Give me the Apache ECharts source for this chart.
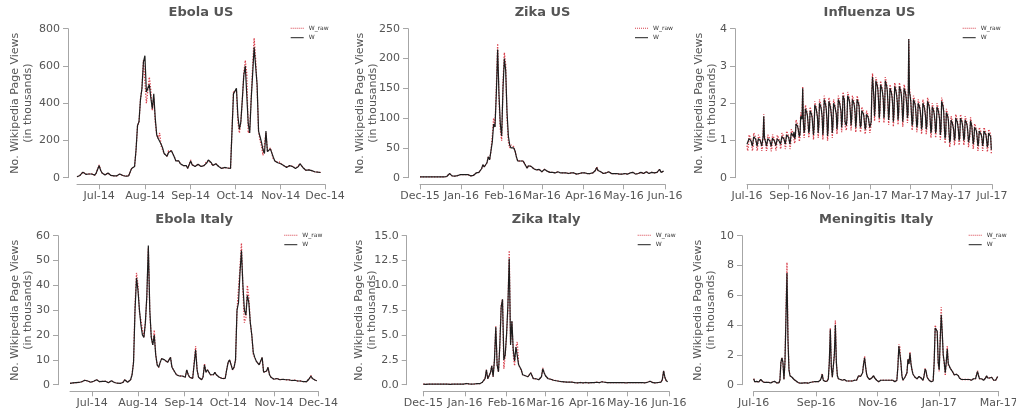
<!DOCTYPE html>
<html>
<head>
<meta charset="utf-8">
<script src="https://cdn.jsdelivr.net/npm/echarts@6/dist/echarts.min.js"></script>
<style>
  html, body { margin: 0; padding: 0; background: #ffffff; }
  #chart { width: 1016px; height: 414px; }
</style>
</head>
<body>
<div id="chart"></div>
<script>
// Daily Wikipedia page views (thousands). W = adjusted series, W_raw = raw counts.

// ---- Ebola, US (from 2014-06-16) ----
const ebolaUsStart = '2014-06-16';
const ebolaUsW = [
  5,8,12,22,30,20,18,25,20,15,
  20,18,14,25,30,65,40,25,18,15,
  22,25,18,12,10,10,12,10,15,20,
  15,12,10,8,8,10,30,50,45,60,
  150,280,300,420,480,620,655,460,480,500,
  430,370,450,320,230,210,220,180,160,130,
  120,115,135,140,145,145,110,90,85,90,
  75,70,65,60,65,50,45,90,70,65,
  60,70,72,68,60,55,65,70,80,95,
  85,80,65,60,75,70,60,55,50,55,
  55,50,52,55,50,55,450,455,480,330,
  260,300,420,550,600,590,290,240,420,560,
  700,600,500,250,220,190,150,130,250,140,
  130,155,150,110,90,85,80,85,75,70,
  65,60,55,60,65,65,60,55,50,55,
  60,75,65,55,45,40,45,42,40,38,
  35,32,30,30,28,28
];
const ebolaUsRaw = [
  5,8,12,22,30,20,18,25,20,15,
  20,18,14,25,30,68,40,25,18,15,
  22,25,18,12,10,10,12,10,15,20,
  15,12,10,8,8,10,30,50,45,60,
  150,280,300,420,480,630,640,400,470,540,
  470,360,430,300,230,210,240,170,160,130,
  120,115,145,140,145,150,110,90,85,90,
  75,70,65,60,65,50,45,95,70,65,
  60,70,72,68,60,55,65,70,90,95,
  85,80,65,60,75,70,60,55,50,55,
  55,50,52,55,50,55,460,450,470,300,
  240,300,420,560,630,560,240,260,430,600,
  750,640,480,250,200,170,120,130,240,140,
  130,160,150,100,90,85,80,85,75,70,
  65,60,55,60,65,65,60,55,50,55,
  60,75,65,55,45,40,45,42,40,38,
  35,32,30,30,28,28
];

// ---- Zika, US (from 2015-12-01) ----
const zikaUsStart = '2015-12-01';
const zikaUsW = [
  1.5,1.4,1.5,1.6,1.5,1.4,1.3,1.5,1.6,1.5,
  1.4,1.5,1.6,1.5,1.4,1.5,1.6,1.7,1.5,1.4,
  2,4,7,5,3,2.5,2.5,3,3.5,4,
  5,7,5,4,5,6,5,4,3,3,
  4,5,8,9,9,12,15,22,18,17,
  25,35,30,45,60,90,85,140,215,140,
  90,70,150,200,180,110,70,55,50,52,
  50,45,35,28,25,28,30,28,25,20,
  16,20,22,19,16,15,14,13,15,14,
  13,10,12,14,13,11,9,9,10,9,
  8,8,9,10,9,8,7,8,9,8,
  7,7,8,8,9,8,7,6,7,7,
  8,8,9,8,7,7,8,7,9,8,
  8,12,17,12,14,10,8,7,6,8,
  9,10,8,7,6,7,8,7,6,6,
  7,6,6,7,6,6,7,8,10,9,
  7,6,6,7,8,9,8,7,9,10,
  8,7,8,9,7,8,8,9,10,14,
  9,10,11
];
const zikaUsRaw = [
  1.5,1.4,1.5,1.6,1.5,1.4,1.3,1.5,1.6,1.5,
  1.4,1.5,1.6,1.5,1.4,1.5,1.6,1.7,1.5,1.4,
  2,4,7,5,3,2.5,2.5,3,3.5,4,
  5,7,5,4,5,6,5,4,3,3,
  4,5,8,9,9,12,15,22,18,17,
  25,35,30,45,70,100,85,150,225,130,
  80,62,160,210,190,100,60,50,55,55,
  52,45,35,28,25,28,30,28,25,20,
  16,20,22,19,16,15,14,13,15,14,
  13,10,12,14,13,11,9,9,10,9,
  8,8,9,10,9,8,7,8,9,8,
  7,7,8,8,9,8,7,6,7,7,
  8,8,9,8,7,7,8,7,9,8,
  8,12,18,12,14,10,8,7,6,8,
  9,10,8,7,6,7,8,7,6,6,
  7,6,6,7,6,6,7,8,10,9,
  7,6,6,7,8,9,8,7,9,10,
  8,7,8,9,7,8,8,9,10,14,
  9,10,11
];

// ---- Influenza, US (from 2016-07-01, one row per week Fri..Thu) ----
const fluUsStart = '2016-07-01';
const fluUsW = [
  0.9,0.85,0.88,1.05,1.04,1.02,0.99,
  0.96,0.85,0.89,1.1,1.09,1.06,1.03,
  0.94,0.85,0.88,1.05,1.04,1.02,0.99,
  0.96,0.85,0.89,1.1,1.65,1.06,1.03,
  0.94,0.85,0.88,1.05,1.04,1.02,0.99,
  0.93,0.84,0.87,1.06,1.05,1.01,0.98,
  0.95,0.86,0.89,1.04,1.03,1.01,0.98,
  0.99,0.9,0.93,1.1,1.09,1.07,1.04,
  1.01,0.9,0.94,1.15,1.14,1.11,1.08,
  1.04,0.9,0.95,1.2,1.19,1.16,1.11,
  1.23,1.05,1.11,1.45,1.44,1.39,1.33,
  1.35,1.1,1.18,1.65,1.63,1.57,2.4,
  1.49,1.2,1.3,1.85,1.83,1.75,1.66,
  1.47,1.2,1.29,1.8,1.78,1.71,1.62,
  1.57,1.15,1.36,1.95,1.93,1.85,1.74,
  1.62,1.2,1.41,2.0,1.98,1.9,1.79,
  1.63,1.15,1.38,2.1,2.07,1.97,1.85,
  1.58,1.12,1.33,2.05,2.02,1.92,1.8,
  1.62,1.2,1.41,2.0,1.98,1.9,1.79,
  1.72,1.3,1.51,2.1,2.08,2.0,1.89,
  1.79,1.35,1.56,2.2,2.18,2.09,1.5,
  1.55,1.4,1.6,2.2,2.18,2.1,2.0,
  1.77,1.4,1.59,2.1,2.08,2.01,1.92,
  1.74,1.35,1.55,2.1,2.08,2.0,1.91,
  1.55,1.35,1.42,1.8,1.79,1.73,1.67,
  1.48,1.3,1.36,1.7,1.69,1.64,1.58,
  1.45,1.35,1.4,1.5,2.3,2.7,2.45,
  2.16,1.65,1.92,2.6,2.58,2.48,2.36,
  2.06,1.6,1.82,2.5,2.48,2.38,2.26,
  2.11,1.6,1.84,2.6,2.57,2.47,2.33,
  1.99,1.55,1.76,2.4,2.38,2.29,2.18,
  1.98,1.5,1.73,2.45,2.42,2.32,2.2,
  2.01,1.55,1.77,2.45,2.43,2.33,2.21,
  1.96,1.5,1.72,2.4,2.38,2.28,2.16,
  1.95,1.6,1.75,3.72,2.3,2.2,2.05,
  1.72,1.4,1.51,2.1,2.08,2.0,1.89,
  1.64,1.35,1.45,2.0,1.98,1.9,1.81,
  1.62,1.3,1.41,2.0,1.98,1.9,1.79,
  1.64,1.3,1.41,2.05,2.03,1.94,1.83,
  1.52,1.2,1.31,1.9,1.88,1.8,1.69,
  1.52,1.2,1.31,1.9,1.88,1.8,1.69,
  1.56,1.15,1.29,2.05,2.02,1.92,1.78,
  1.37,1.05,1.16,1.75,1.73,1.65,1.54,
  1.22,0.95,1.04,1.55,1.53,1.46,1.37,
  1.27,1.0,1.09,1.6,1.58,1.51,1.42,
  1.27,1.0,1.09,1.6,1.58,1.51,1.42,
  1.25,1.0,1.08,1.55,1.53,1.47,1.39,
  1.22,0.95,1.04,1.2,1.53,1.46,1.37,
  1.13,0.9,1.01,1.35,1.34,1.29,1.23,
  1.06,0.85,0.95,1.25,1.24,1.2,1.15,
  1.06,0.85,0.95,1.25,1.24,1.2,1.15,
  1.01,0.82,0.9,1.2,1.19,1.15,1.1,
  0.75
];
const fluUsRaw = [
  0.86,0.72,0.8,1.15,1.13,1.08,1.02,
  0.92,0.72,0.81,1.2,1.18,1.12,1.06,
  0.9,0.72,0.8,1.15,1.13,1.08,1.02,
  0.92,0.72,0.81,1.2,1.7,1.12,1.06,
  0.9,0.72,0.8,1.15,1.13,1.08,1.02,
  0.89,0.71,0.79,1.16,1.14,1.07,1.01,
  0.91,0.73,0.81,1.14,1.12,1.07,1.01,
  0.95,0.77,0.85,1.2,1.18,1.13,1.07,
  0.97,0.77,0.86,1.25,1.23,1.17,1.11,
  1.0,0.77,0.87,1.3,1.28,1.22,1.14,
  1.19,0.92,1.03,1.55,1.53,1.45,1.36,
  1.31,0.97,1.1,1.75,1.72,1.63,2.45,
  1.45,1.07,1.22,1.95,1.92,1.81,1.69,
  1.43,1.07,1.21,1.9,1.87,1.77,1.65,
  1.53,1.02,1.28,2.05,2.02,1.91,1.77,
  1.58,1.07,1.33,2.1,2.07,1.96,1.82,
  1.59,1.02,1.3,2.2,2.16,2.03,1.88,
  1.54,0.99,1.25,2.15,2.11,1.98,1.83,
  1.58,1.07,1.33,2.1,2.07,1.96,1.82,
  1.68,1.17,1.43,2.2,2.17,2.06,1.92,
  1.75,1.22,1.48,2.3,2.27,2.15,1.4,
  1.45,1.27,1.52,2.3,2.27,2.16,2.03,
  1.73,1.27,1.51,2.2,2.17,2.07,1.95,
  1.7,1.22,1.47,2.2,2.17,2.06,1.94,
  1.51,1.22,1.34,1.9,1.88,1.79,1.7,
  1.44,1.17,1.28,1.8,1.78,1.7,1.61,
  1.4,1.2,1.3,1.45,2.4,2.8,2.52,
  2.12,1.52,1.84,2.7,2.67,2.54,2.39,
  2.02,1.47,1.74,2.6,2.57,2.44,2.29,
  2.07,1.47,1.76,2.7,2.66,2.53,2.36,
  1.95,1.42,1.68,2.5,2.47,2.35,2.21,
  1.94,1.37,1.65,2.55,2.51,2.38,2.23,
  1.97,1.42,1.69,2.55,2.52,2.39,2.24,
  1.92,1.37,1.64,2.5,2.47,2.34,2.19,
  1.91,1.47,1.67,3.72,2.39,2.26,2.08,
  1.68,1.27,1.43,2.2,2.17,2.06,1.92,
  1.6,1.22,1.37,2.1,2.07,1.96,1.84,
  1.58,1.17,1.33,2.1,2.07,1.96,1.82,
  1.6,1.17,1.33,2.15,2.12,2.0,1.86,
  1.48,1.07,1.23,2.0,1.97,1.86,1.72,
  1.48,1.07,1.23,2.0,1.97,1.86,1.72,
  1.52,1.02,1.21,2.15,2.11,1.98,1.81,
  1.33,0.92,1.08,1.85,1.82,1.71,1.57,
  1.18,0.82,0.96,1.65,1.62,1.52,1.4,
  1.23,0.87,1.01,1.7,1.67,1.57,1.45,
  1.23,0.87,1.01,1.7,1.67,1.57,1.45,
  1.21,0.87,1.0,1.65,1.62,1.53,1.42,
  1.18,0.82,0.96,1.12,1.62,1.52,1.4,
  1.09,0.77,0.93,1.45,1.43,1.35,1.26,
  1.02,0.72,0.87,1.35,1.33,1.26,1.18,
  1.02,0.72,0.87,1.35,1.33,1.26,1.18,
  0.97,0.69,0.82,1.3,1.28,1.21,1.13,
  0.65
];

// ---- Ebola, Italy (from 2014-06-16) ----
const ebolaItStart = '2014-06-16';
const ebolaItW = [
  0.5,0.6,0.7,0.6,0.8,0.7,0.9,1.0,1.2,1.5,
  1.8,2.0,1.5,1.2,1.0,1.2,1.4,1.8,2.0,1.6,
  1.2,1.0,1.3,1.6,1.4,1.0,0.8,1.2,1.6,1.2,
  0.9,0.7,0.6,0.5,0.5,0.6,1.0,2.0,1.5,1.0,
  1.2,2.0,4.0,9.0,30,43,38,30,24,20,
  19,25,36,56,30,19,16,20,12,8,
  7,9,10.5,10.8,10,9.5,9,9.5,11,7,
  6,5,4,4.5,3.5,3,3.5,4,3,6,
  4,3,2.5,2.5,3,14,6,3,2.5,2,
  3,8,5,6,5,4,3.5,4,5,4,
  3.5,3,2.5,2.5,2,2.5,6,9,10,10,
  6,7,10,30,33,45,54,40,30,28,
  36,33,25,20,13,11,9.5,9,8,8.5,
  11,5,4.5,5.5,7,4,3,2.5,2.2,2.2,
  2.5,2.3,2.0,2.5,2.2,2.4,2.0,1.8,2.0,1.8,
  1.7,1.6,1.8,1.6,1.5,1.4,1.5,1.3,1.2,1.0,
  1.2,1.5,2.5,3.5,2.5,2.0,1.8,1.6
];
const ebolaItRaw = [
  0.5,0.6,0.7,0.6,0.8,0.7,0.9,1.0,1.2,1.5,
  1.8,2.0,1.5,1.2,1.0,1.2,1.4,1.8,2.0,1.6,
  1.2,1.0,1.3,1.6,1.4,1.0,0.8,1.2,1.6,1.2,
  0.9,0.7,0.6,0.5,0.5,0.6,1.0,2.0,1.5,1.0,
  1.2,2.0,4.0,9.5,32,45,40,29,26,22,
  19,25,35,55,29,19,16,22,12,8,
  7,9,10.5,10.8,10,9.5,9,9.5,11,7,
  6,5,4,4.5,3.5,3,3.5,4,3,6,
  4,3,2.5,2.5,3,15.5,6,3,2.5,2,
  3,8.5,5,6,5,4,3.5,4,5,4,
  3.5,3,2.5,2.5,2,2.5,6,9,10,10,
  6,7,10,30,30,47,57,38,25,27,
  40,35,25,20,12,11,9.5,9,8,8.5,
  11,5,4.5,5.5,7,4,3,2.5,2.2,2.2,
  2.5,2.3,2.0,2.5,2.2,2.4,2.0,1.8,2.0,1.8,
  1.7,1.6,1.8,1.6,1.5,1.4,1.5,1.3,1.2,1.0,
  1.2,1.5,2.5,3.7,2.5,2.0,1.8,1.6
];

// ---- Zika, Italy (from 2015-12-01) ----
const zikaItStart = '2015-12-01';
const zikaItW = [
  0.05,0.05,0.04,0.05,0.06,0.05,0.05,0.04,0.05,0.05,
  0.06,0.05,0.05,0.04,0.05,0.05,0.05,0.06,0.05,0.05,
  0.04,0.04,0.05,0.05,0.05,0.04,0.05,0.05,0.06,0.05,
  0.05,0.08,0.12,0.1,0.08,0.07,0.06,0.06,0.07,0.08,
  0.1,0.12,0.1,0.15,0.25,0.3,0.6,1.5,0.6,0.8,
  1.2,1.9,0.8,2.5,5.8,2.0,1.3,4.0,7.8,8.6,
  2.5,3.0,5.0,8.0,12.7,4.0,6.4,3.5,2.4,3.8,
  4.0,2.0,1.8,1.5,1.0,1.1,0.9,1.0,0.8,1.0,
  1.2,1.4,0.6,0.7,0.6,0.7,0.5,0.6,0.8,1.6,
  1.2,0.9,0.7,0.6,0.5,0.55,0.5,0.45,0.4,0.4,
  0.35,0.35,0.3,0.3,0.3,0.28,0.25,0.25,0.22,0.25,
  0.28,0.25,0.22,0.2,0.2,0.18,0.2,0.22,0.2,0.18,
  0.2,0.22,0.2,0.18,0.2,0.2,0.18,0.2,0.22,0.25,
  0.2,0.2,0.22,0.3,0.35,0.25,0.2,0.2,0.18,0.2,
  0.22,0.2,0.18,0.2,0.22,0.2,0.18,0.2,0.2,0.22,
  0.2,0.18,0.2,0.22,0.2,0.2,0.18,0.2,0.22,0.2,
  0.18,0.2,0.2,0.22,0.2,0.18,0.2,0.25,0.3,0.35,
  0.25,0.2,0.2,0.18,0.2,0.22,0.2,0.25,0.5,1.4,
  0.7,0.4,0.3
];
const zikaItRaw = [
  0.05,0.05,0.04,0.05,0.06,0.05,0.05,0.04,0.05,0.05,
  0.06,0.05,0.05,0.04,0.05,0.05,0.05,0.06,0.05,0.05,
  0.04,0.04,0.05,0.05,0.05,0.04,0.05,0.05,0.06,0.05,
  0.05,0.08,0.12,0.1,0.08,0.07,0.06,0.06,0.07,0.08,
  0.1,0.12,0.1,0.15,0.25,0.3,0.6,1.5,0.6,0.8,
  1.2,1.9,0.8,2.5,5.9,1.9,1.3,4.0,8.0,8.6,
  1.6,3.0,5.0,7.5,13.5,4.2,6.3,3.0,1.9,3.8,
  4.3,2.0,1.8,1.4,1.0,1.1,0.9,1.0,0.8,1.0,
  1.2,1.4,0.6,0.7,0.6,0.7,0.5,0.6,0.8,1.7,
  1.2,0.9,0.7,0.6,0.5,0.55,0.5,0.45,0.4,0.4,
  0.35,0.35,0.3,0.3,0.3,0.28,0.25,0.25,0.22,0.25,
  0.28,0.25,0.22,0.2,0.2,0.18,0.2,0.22,0.2,0.18,
  0.2,0.22,0.2,0.18,0.2,0.2,0.18,0.2,0.22,0.25,
  0.2,0.2,0.22,0.3,0.35,0.25,0.2,0.2,0.18,0.2,
  0.22,0.2,0.18,0.2,0.22,0.2,0.18,0.2,0.2,0.22,
  0.2,0.18,0.2,0.22,0.2,0.2,0.18,0.2,0.22,0.2,
  0.18,0.2,0.2,0.22,0.2,0.18,0.2,0.25,0.3,0.35,
  0.25,0.2,0.2,0.18,0.2,0.22,0.2,0.25,0.5,1.4,
  0.7,0.4,0.3
];

// ---- Meningitis, Italy (from 2016-07-01) ----
const meningItStart = '2016-07-01';
const meningItW = [
  0.4,0.2,0.2,0.22,0.2,0.18,0.22,0.35,0.28,0.2,
  0.18,0.15,0.18,0.15,0.12,0.15,0.15,0.12,0.15,0.2,
  0.3,0.22,0.15,0.12,0.1,0.12,0.3,1.5,1.8,1.5,
  0.35,1.5,4.5,7.5,3.0,1.0,0.6,0.55,0.5,0.4,
  0.35,0.3,0.25,0.2,0.15,0.12,0.1,0.12,0.1,0.15,
  0.12,0.1,0.12,0.15,0.1,0.12,0.15,0.12,0.18,0.15,
  0.2,0.18,0.2,0.22,0.2,0.25,0.3,0.45,0.7,0.3,
  0.25,0.22,0.2,0.25,0.4,1.5,3.7,1.2,0.5,0.6,
  2.0,4.0,1.5,0.6,0.4,0.3,0.35,0.3,0.3,0.25,
  0.35,0.3,0.25,0.2,0.25,0.3,0.25,0.2,0.25,0.3,
  0.3,0.35,0.3,0.4,0.6,0.6,0.55,0.6,0.8,1.4,
  1.8,1.2,0.7,0.5,0.4,0.35,0.4,0.45,0.55,0.6,
  0.45,0.35,0.3,0.25,0.2,0.25,0.3,0.35,0.3,0.35,
  0.3,0.35,0.3,0.35,0.3,0.35,0.3,0.25,0.3,0.25,
  0.2,0.25,0.3,1.2,2.6,2.5,1.5,0.6,0.3,0.4,
  0.5,0.45,0.8,1.7,1.4,2.1,1.4,1.0,0.7,0.6,
  0.5,0.45,0.4,0.45,0.55,0.6,0.45,0.35,0.3,0.6,
  1.05,0.9,0.5,0.4,0.3,0.25,0.2,0.2,0.25,1.5,
  3.8,3.9,3.6,1.5,1.0,3.0,4.7,3.5,2.0,1.5,
  0.8,1.5,2.4,1.4,1.3,1.1,1.0,0.9,0.8,0.65,
  0.6,0.7,0.75,0.6,0.45,0.4,0.35,0.4,0.35,0.3,
  0.35,0.3,0.35,0.3,0.35,0.3,0.3,0.35,0.4,0.45,
  0.4,0.5,0.9,0.6,0.4,0.35,0.4,0.35,0.3,0.35,
  0.45,0.6,0.45,0.4,0.45,0.5,0.5,0.45,0.3,0.25,
  0.3,0.4,0.55
];
const meningItRaw = [
  0.4,0.2,0.2,0.22,0.2,0.18,0.22,0.35,0.28,0.2,
  0.18,0.15,0.18,0.15,0.12,0.15,0.15,0.12,0.15,0.2,
  0.3,0.22,0.15,0.12,0.1,0.12,0.3,1.5,1.8,1.5,
  0.35,1.5,4.8,8.2,3.2,1.0,0.6,0.55,0.5,0.4,
  0.35,0.3,0.25,0.2,0.15,0.12,0.1,0.12,0.1,0.15,
  0.12,0.1,0.12,0.15,0.1,0.12,0.15,0.12,0.18,0.15,
  0.2,0.18,0.2,0.22,0.2,0.25,0.3,0.45,0.75,0.3,
  0.25,0.22,0.2,0.25,0.4,1.5,3.8,1.1,0.5,0.6,
  2.1,4.3,1.4,0.6,0.4,0.3,0.35,0.3,0.3,0.25,
  0.35,0.3,0.25,0.2,0.25,0.3,0.25,0.2,0.25,0.3,
  0.3,0.35,0.3,0.4,0.6,0.6,0.55,0.6,0.8,1.4,
  1.9,1.2,0.7,0.5,0.4,0.35,0.4,0.45,0.55,0.6,
  0.45,0.35,0.3,0.25,0.2,0.25,0.3,0.35,0.3,0.35,
  0.3,0.35,0.3,0.35,0.3,0.35,0.3,0.25,0.3,0.25,
  0.2,0.25,0.3,1.2,2.7,2.5,1.4,0.6,0.3,0.4,
  0.5,0.45,0.8,1.7,1.4,2.2,1.4,1.0,0.7,0.6,
  0.5,0.45,0.4,0.45,0.55,0.6,0.45,0.35,0.3,0.6,
  1.1,0.9,0.5,0.4,0.3,0.25,0.2,0.2,0.25,1.5,
  4.0,3.9,3.5,1.4,0.9,3.2,5.2,3.4,1.9,1.4,
  0.6,1.6,2.6,1.3,1.3,1.1,1.0,0.9,0.8,0.65,
  0.6,0.7,0.75,0.6,0.45,0.4,0.35,0.4,0.35,0.3,
  0.35,0.3,0.35,0.3,0.35,0.3,0.3,0.35,0.4,0.45,
  0.4,0.5,0.95,0.6,0.4,0.35,0.4,0.35,0.3,0.35,
  0.45,0.6,0.45,0.4,0.45,0.5,0.5,0.45,0.3,0.25,
  0.3,0.4,0.55
];

// ---- Month ticks shown on each date axis ----
const ebolaTicks = ['2014-07-01','2014-08-01','2014-09-01','2014-10-01','2014-11-01','2014-12-01'];
const zikaTicks = ['2015-12-01','2016-01-01','2016-02-01','2016-03-01','2016-04-01','2016-05-01','2016-06-01'];
const fluTicks = ['2016-07-01','2016-09-01','2016-11-01','2017-01-01','2017-03-01','2017-05-01','2017-07-01'];
const meningTicks = ['2016-07-01','2016-09-01','2016-11-01','2017-01-01','2017-03-01'];
const MONTHS = ['Jan','Feb','Mar','Apr','May','Jun','Jul','Aug','Sep','Oct','Nov','Dec'];

// ---- helpers: dates are kept as millisecond timestamps on a numeric axis ----
function dayMs(s, add) {
  const p = s.split('-').map(Number);
  return new Date(p[0], p[1] - 1, p[2] + (add || 0)).getTime();
}
function daily(start, vals) {
  return vals.map((v, i) => [dayMs(start, i), v]);
}
function monthLabel(v) {
  const d = new Date(v);
  return MONTHS[d.getMonth()] + '-' + String(d.getFullYear()).slice(2);
}

const FONT = 'DejaVu Sans';
const TEXT = '#555555';
const SPINE = '#a6a6a6';
const RED = '#d8404c';
const BLACK = '#1e1e1e';
// legend swatches: a dotted stroke and a solid stroke, 13px wide
const ICON_DOTTED = 'path://M0 0h1v1H0zM2 0h1v1H2zM4 0h1v1H4zM6 0h1v1H6zM8 0h1v1H8zM10 0h1v1H10zM12 0h1v1H12z';
const ICON_SOLID = 'path://M0 0h13v1H0z';

// Panel layout (pixels)
const panels = [
  { title: 'Ebola US', start: ebolaUsStart, w: ebolaUsW, raw: ebolaUsRaw, ticks: ebolaTicks,
    xMin: '2014-06-16', xMax: '2014-12-01', yMax: 800, yStep: 200, dec: 0,
    left: 77, top: 28.7, width: 248, yOff: 9, nameGap: 33.5, legLeft: 290.7 },
  { title: 'Zika US', start: zikaUsStart, w: zikaUsW, raw: zikaUsRaw, ticks: zikaTicks,
    xMin: '2015-12-01', xMax: '2016-06-01', yMax: 250, yStep: 50, dec: 0,
    left: 420, top: 28.7, width: 245, yOff: 12, nameGap: 28.8, legLeft: 635 },
  { title: 'Influenza US', start: fluUsStart, w: fluUsW, raw: fluUsRaw, ticks: fluTicks,
    xMin: '2016-07-01', xMax: '2017-07-01', yMax: 4, yStep: 1, dec: 0,
    left: 747, top: 28.7, width: 245, yOff: 12, nameGap: 16.5, legLeft: 962.7 },
  { title: 'Ebola Italy', start: ebolaItStart, w: ebolaItW, raw: ebolaItRaw, ticks: ebolaTicks,
    xMin: '2014-06-16', xMax: '2014-12-01', yMax: 60, yStep: 10, dec: 0,
    left: 70, top: 235.7, width: 248.3, yOff: 12, nameGap: 23.2, legLeft: 284.3 },
  { title: 'Zika Italy', start: zikaItStart, w: zikaItW, raw: zikaItRaw, ticks: zikaTicks,
    xMin: '2015-12-01', xMax: '2016-06-01', yMax: 15, yStep: 2.5, dec: 1,
    left: 423.3, top: 235.7, width: 245.7, yOff: 16.6, nameGap: 28.5, legLeft: 637.7 },
  { title: 'Meningitis Italy', start: meningItStart, w: meningItW, raw: meningItRaw, ticks: meningTicks,
    xMin: '2016-07-01', xMax: '2017-03-01', yMax: 10, yStep: 2, dec: 0,
    left: 753.7, top: 235.7, width: 245, yOff: 11.7, nameGap: 24.5, legLeft: 968.7 }
];
const PLOT_H = 149;

const option = {
  animation: false,
  backgroundColor: '#ffffff',
  textStyle: { fontFamily: FONT },
  title: [], grid: [], xAxis: [], yAxis: [], legend: [], series: []
};

panels.forEach((p, i) => {
  option.title.push({
    text: p.title,
    left: p.left + p.width / 2,
    top: p.top - 22.5,
    textAlign: 'center',
    padding: 0,
    textStyle: { fontFamily: FONT, fontSize: 13, fontWeight: 'bold', color: TEXT }
  });
  option.grid.push({
    left: p.left, top: p.top, width: p.width, height: PLOT_H,
    containLabel: false, outerBoundsMode: 'none'
  });
  const tickVals = p.ticks.map(t => dayMs(t));
  option.xAxis.push({
    type: 'value', gridIndex: i,
    min: dayMs(p.xMin), max: dayMs(p.xMax),
    offset: 6.6,
    splitLine: { show: false },
    axisLine: { show: true, onZero: false, lineStyle: { color: SPINE, width: 1 } },
    axisTick: { show: true, length: 5, customValues: tickVals, lineStyle: { color: SPINE, width: 1 } },
    axisLabel: {
      customValues: tickVals, formatter: monthLabel, margin: 6,
      fontFamily: FONT, fontSize: 11, color: TEXT, hideOverlap: false
    }
  });
  option.yAxis.push({
    type: 'value', gridIndex: i,
    min: 0, max: p.yMax, interval: p.yStep,
    offset: p.yOff,
    name: 'No. Wikipedia Page Views\n(in thousands)',
    nameLocation: 'middle', nameGap: p.nameGap, nameRotate: 90, nameMoveOverlap: false,
    nameTextStyle: { fontFamily: FONT, fontSize: 11, lineHeight: 13, color: TEXT },
    splitLine: { show: false },
    axisLine: { show: true, onZero: false, lineStyle: { color: SPINE, width: 1 } },
    axisTick: { show: true, length: 5, lineStyle: { color: SPINE, width: 1 } },
    axisLabel: {
      margin: 8, fontFamily: FONT, fontSize: 11, color: TEXT,
      formatter: v => v.toFixed(p.dec)
    }
  });
  option.legend.push({
    data: [{ name: 'W_raw', icon: ICON_DOTTED }, { name: 'W', icon: ICON_SOLID }],
    orient: 'vertical',
    left: p.legLeft, top: p.top - 3.9,
    padding: 0, itemWidth: 13, itemHeight: 1.3, itemGap: 2.4,
    selectedMode: false,
    textStyle: { fontFamily: FONT, fontSize: 6, lineHeight: 7, color: '#333333' }
  });
  option.series.push({
    name: 'W_raw', type: 'line', xAxisIndex: i, yAxisIndex: i,
    data: daily(p.start, p.raw),
    symbol: 'none', showSymbol: false, z: 2,
    lineStyle: { color: RED, width: 1.3, type: [1.3, 1.5] },
    itemStyle: { color: RED }
  });
  option.series.push({
    name: 'W', type: 'line', xAxisIndex: i, yAxisIndex: i,
    data: daily(p.start, p.w),
    symbol: 'none', showSymbol: false, z: 3,
    lineStyle: { color: BLACK, width: 1.2 },
    itemStyle: { color: BLACK }
  });
});

const chart = echarts.init(document.getElementById('chart'), null, { renderer: 'canvas' });
chart.setOption(option);
</script>
</body>
</html>
